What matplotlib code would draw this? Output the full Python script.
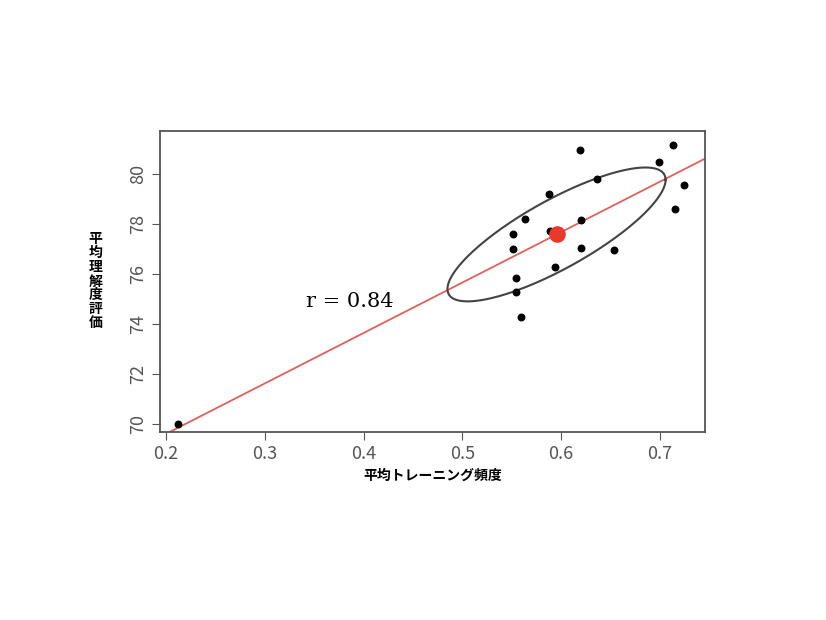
import numpy as np
import matplotlib
matplotlib.use("Agg")
import matplotlib.pyplot as plt

plt.rcParams['font.family'] = ['Noto Sans CJK JP', 'DejaVu Sans']

x = [0.619, 0.713, 0.699, 0.636, 0.725, 0.716, 0.588, 0.564, 0.620, 0.551,
     0.589, 0.551, 0.620, 0.654, 0.594, 0.554, 0.554, 0.560, 0.212]
y = [80.96, 81.17, 80.48, 79.81, 79.55, 78.59, 79.19, 78.19, 78.15, 77.60,
     77.72, 76.99, 77.03, 76.96, 76.29, 75.83, 75.29, 74.29, 70.00]
mean_pt = (0.5955, 77.58)
xticks = [0.2, 0.3, 0.4, 0.5, 0.6, 0.7]
yticks = [70, 72, 74, 76, 78, 80]

fig = plt.figure(figsize=(8.26, 6.2), dpi=100)
ax = fig.add_axes([0.194, 0.303, 0.659, 0.486])
ax.set_xlim(0.194, 0.7455)
ax.set_ylim(69.68, 81.72)

xs = np.array(x); ys = np.array(y)
b, a = np.polyfit(xs, ys, 1)
lx = np.array([0.194, 0.7455])
ax.plot(lx, a + b * lx, color='#e0605a', lw=1.3)

t = np.linspace(0, 2 * np.pi, 300)
u = np.array([0.1105, 2.18]); v = np.array([0.0, 1.55])
ex = mean_pt[0] + u[0] * np.cos(t) + v[0] * np.sin(t)
ey = mean_pt[1] + u[1] * np.cos(t) + v[1] * np.sin(t)
ax.plot(ex, ey, color='#444444', lw=1.5)

ax.scatter(xs, ys, s=22, color='black', zorder=3)
ax.scatter([mean_pt[0]], [mean_pt[1]], s=120, color='#e8392b', zorder=4)

ax.text(0.386, 74.9, 'r = 0.84', fontsize=15, family='DejaVu Serif', ha='center', va='center')

ax.set_xticks(xticks)
ax.set_yticks(yticks)
ax.set_xticklabels([str(v) for v in xticks], color='#555555', fontsize=13)
ax.set_yticklabels([str(v) for v in yticks], color='#555555', fontsize=13, rotation=90, va='center')
ax.tick_params(colors='#555555', length=6)
for s in ax.spines.values():
    s.set_color('#555555'); s.set_linewidth(1.3)

ax.set_xlabel('平均トレーニング頻度', fontsize=10, fontweight='bold', labelpad=4)
ax.set_ylabel('平\n均\n理\n解\n度\n評\n価', fontsize=10, fontweight='bold', rotation=0,
              va='center', linespacing=1.0, labelpad=24)

fig.savefig('out.png', dpi=100)
